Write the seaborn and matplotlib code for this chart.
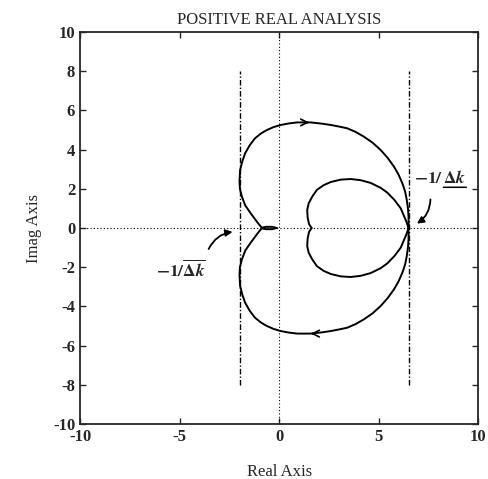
import pandas as pd
import numpy as np
import seaborn as sns
import matplotlib.pyplot as plt

# upper half of the outer curve, from the small loop near the origin to the crossing at 6.5
outer_x = [-0.12, -0.35, -0.65, -0.88, -1.1, -1.43, -1.7, -1.87, -1.97, -1.99, -1.96, -1.85,
           -1.71, -1.48, -1.21, -0.92, -0.62, -0.28, 0.08, 0.5, 0.91, 1.58, 2.2, 2.59, 3.0,
           3.42, 3.85, 4.26, 4.7, 5.1, 5.45, 5.77, 6.0, 6.19, 6.33, 6.41, 6.47, 6.5, 6.5]
outer_y = [0.0, 0.06, 0.06, 0.02, 0.3, 0.75, 1.15, 1.6, 2.0, 2.4, 2.96, 3.4,
           3.81, 4.22, 4.58, 4.82, 5.0, 5.15, 5.26, 5.34, 5.39, 5.39, 5.32, 5.26, 5.18,
           5.09, 4.9, 4.66, 4.35, 3.98, 3.58, 3.13, 2.72, 2.28, 1.85, 1.43, 1.0, 0.58, 0.0]

# upper half of the inner (heart shaped) curve
inner_x = [6.5, 6.4, 6.11, 5.8, 5.44, 5.1, 4.6, 4.1, 3.6, 3.1, 2.6, 2.24, 1.9, 1.66,
           1.48, 1.41, 1.43, 1.5, 1.63]
inner_y = [0.0, 0.3, 1.0, 1.42, 1.8, 2.05, 2.3, 2.44, 2.5, 2.47, 2.35, 2.19, 1.95, 1.6,
           1.25, 0.92, 0.55, 0.2, 0.0]

# vertical bounds
bound_x = [-1.95, 6.5]
bound_y = [-8, 8]

# direction arrows on the outer curve (tail, head)
dir_arrows = [((1.2, 5.39), (1.65, 5.39)), ((1.9, -5.39), (1.45, -5.39))]

ticks = [-10, -5, 0, 5, 10]
yticks = [-10, -8, -6, -4, -2, 0, 2, 4, 6, 8, 10]

rows = []
for part, xs, ys in [("outer", outer_x, outer_y), ("inner", inner_x, inner_y)]:
    for x, y in zip(xs, ys):
        rows.append((part + "_up", x, y))
    for x, y in zip(xs, ys):
        rows.append((part + "_dn", x, -y))
df = pd.DataFrame(rows, columns=["branch", "re", "im"])

sns.set_style("ticks")
plt.rcParams["font.family"] = ["Liberation Serif", "DejaVu Serif"]
plt.rcParams["mathtext.fontset"] = "stix"
plt.rcParams["axes.unicode_minus"] = False

fig = plt.figure(figsize=(4.88, 4.79), dpi=100)
ax = fig.add_axes([0.164, 0.115, 0.816, 0.818])

sns.lineplot(data=df, x="re", y="im", units="branch", estimator=None, sort=False,
             color="black", lw=1.4, ax=ax, legend=False)

ax.axhline(0, color="black", ls=(0, (1, 2)), lw=0.8)
ax.axvline(0, color="black", ls=(0, (1, 2)), lw=0.8)
for bx in bound_x:
    ax.plot([bx, bx], bound_y, color="black", lw=1.0, ls=(0, (4, 1.5, 1, 1.5)))

for tail, head in dir_arrows:
    ax.annotate("", xy=head, xytext=tail,
                arrowprops=dict(arrowstyle="->", color="black", lw=1.2, mutation_scale=12))

# left label, overlined
ax.annotate("", xy=(-2.2, -0.18), xytext=(-3.6, -1.2),
            arrowprops=dict(arrowstyle="-|>", color="black", lw=1.3, mutation_scale=10,
                            connectionstyle="arc3,rad=-0.3"))
ax.text(-4.95, -2.14, r"$\mathbf{-1/}\overline{\mathbf{\Delta} \boldsymbol{k}}$",
        ha="center", va="center", fontsize=12.5)

# right label, underlined
ax.annotate("", xy=(6.8, 0.15), xytext=(7.6, 1.6),
            arrowprops=dict(arrowstyle="-|>", color="black", lw=1.3, mutation_scale=10,
                            connectionstyle="arc3,rad=-0.3"))
ax.text(8.25, 2.3, r"$\mathbf{-1/}$", ha="right", va="baseline", fontsize=12.5)
t_dk = ax.text(8.25, 2.3, r"$\mathbf{\Delta} \boldsymbol{k}$", ha="left", va="baseline",
               fontsize=12.5)
ax.annotate("", xy=(1, -0.02), xytext=(0, -0.02), xycoords=t_dk, textcoords=t_dk,
            arrowprops=dict(arrowstyle="-", color="black", lw=1.1, shrinkA=0, shrinkB=0))

ax.set_xlim(-10, 10)
ax.set_ylim(-10, 10)
ax.set_xticks(ticks)
ax.set_yticks(yticks)
ax.tick_params(direction="in", top=True, right=True, length=4, width=1, labelsize=12)
for lab in ax.get_xticklabels() + ax.get_yticklabels():
    lab.set_fontweight("bold")
for s in ax.spines.values():
    s.set_linewidth(1.3)

ax.set_title("POSITIVE REAL ANALYSIS", fontsize=12, pad=6)
ax.set_xlabel("Real Axis", fontsize=12, labelpad=14)
ax.set_ylabel("Imag Axis", fontsize=12, labelpad=8)

plt.savefig("out.png", dpi=100)
